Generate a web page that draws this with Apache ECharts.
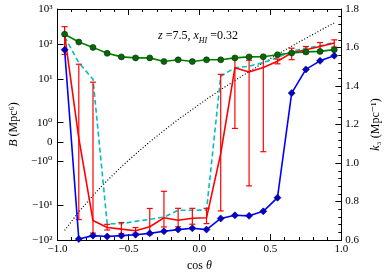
<!DOCTYPE html>
<html><head><meta charset="utf-8">
<script src="https://cdn.jsdelivr.net/npm/echarts@6/dist/echarts.min.js"></script>
<style>html,body{margin:0;padding:0;background:#fff}#c{width:390px;height:277px}</style>
</head><body><div id="c"></div>
<script>
// ---- data ----
const cosTheta = [-0.95,-0.85,-0.75,-0.65,-0.55,-0.45,-0.35,-0.25,-0.15,-0.05,0.05,0.15,0.25,0.35,0.45,0.55,0.65,0.75,0.85,0.95];
const bGreen = [190,113,79.5,53.7,42.5,39.8,39.8,31.3,35,31.3,35,35,39.8,42.5,43,49,55,59,61,68.4];
const bBlue  = [68,-93,-74.5,-79,-74.5,-70,-64,-56,-50,-46,-50,-24,-19.4,-20.2,-15,-6.1,3.9,18.6,32.7,46];
const bCyan  = [160,29,9.7,-34,-34,-29,-25.5,-22,-14,-14,-13.8,11.8,20.7,23,29,40.6,61,76,88.7,110];
const bRed   = [181,0.2,-27.5,-43.4,-48.4,-53.7,-41.4,-23,-26.9,-23.7,-23,-0.6,20.7,15.6,21,31.9,55.3,68.4,84.7,105.7];
const bRedErr= [131,26,35.5,8,17,10,29,19,14.6,11.4,10.7,14,20,18.4,21.5,5,20,16,25,25];
const k3     = [0.650,0.747,0.832,0.909,0.981,1.047,1.110,1.169,1.226,1.279,1.331,1.381,1.429,1.475,1.520,1.564,1.607,1.648,1.688,1.728];
const leftTickValues = [-100,-10,-1,0,1,10,100,1000];
const leftTickLabels = ['−10²','−10¹','−10⁰','0','10⁰','10¹','10²','10³'];

// symmetric-log scale (linthresh 2, linscale 1) used by the left axis
const LINTHRESH = 2, LINSCALE_ADJ = 1/(1-1/10);
function symlog(v){
  const a = Math.abs(v);
  const t = a <= LINTHRESH ? a/LINTHRESH*LINSCALE_ADJ : LINSCALE_ADJ + Math.log10(a/LINTHRESH);
  return v < 0 ? -t : t;
}
const leftTickPos = leftTickValues.map(symlog);
function leftLabel(val){
  let best = 0;
  for (let i=1;i<leftTickPos.length;i++) if (Math.abs(leftTickPos[i]-val) < Math.abs(leftTickPos[best]-val)) best = i;
  return leftTickLabels[best];
}
const pair = arr => cosTheta.map((c,i)=>[c, symlog(arr[i])]);

const FONT = "'Liberation Serif','DejaVu Serif',serif";
const axisLine = {show:true, onZero:false, lineStyle:{color:'#000', width:1}};
const xCommon = {type:'value', min:-1, max:1, interval:0.5, splitLine:{show:false},
  axisLine: axisLine,
  axisTick:{show:true, inside:true, length:6, lineStyle:{color:'#000'}},
  minorTick:{show:true, splitNumber:5, length:3, lineStyle:{color:'#000'}}};

const chart = echarts.init(document.getElementById('c'), null, {renderer:'canvas'});
chart.setOption({
  animation:false,
  backgroundColor:'#fff',
  grid:{left:49, right:41, top:9, bottom:34, containLabel:false},
  xAxis:[
    Object.assign({}, xCommon, {position:'bottom',
      name:'cos {i|θ}', nameLocation:'middle', nameGap:14,
      nameTextStyle:{fontFamily:FONT, fontSize:12, color:'#000', rich:{i:{fontStyle:'italic', fontFamily:FONT, fontSize:12}}},
      axisLabel:{show:true, margin:4, fontFamily:FONT, fontSize:11, color:'#000',
        formatter:v=>v.toFixed(1).replace('-','−')}}),
    Object.assign({}, xCommon, {position:'top', axisLabel:{show:false}})
  ],
  yAxis:[
    {type:'value', position:'left', min:symlog(-100), max:symlog(1000), splitLine:{show:false},
      axisLine: axisLine,
      axisTick:{show:true, inside:true, length:6, customValues:leftTickPos, lineStyle:{color:'#000'}},
      axisLabel:{show:true, margin:5, customValues:leftTickPos, fontFamily:FONT, fontSize:11, color:'#000', formatter:leftLabel},
      name:'{i|B} (Mpc⁶)', nameLocation:'middle', nameGap:34, nameRotate:90,
      nameTextStyle:{fontFamily:FONT, fontSize:12, color:'#000', rich:{i:{fontStyle:'italic', fontFamily:FONT, fontSize:12}}}},
    {type:'value', position:'right', min:0.6, max:1.8, interval:0.2, splitLine:{show:false},
      axisLine: axisLine,
      axisTick:{show:true, inside:true, length:6, lineStyle:{color:'#000'}},
      minorTick:{show:true, splitNumber:5, length:3, lineStyle:{color:'#000'}},
      axisLabel:{show:true, margin:4, fontFamily:FONT, fontSize:11, color:'#000', formatter:v=>v.toFixed(1)},
      name:'{i|k}₃ (Mpc⁻¹)', nameLocation:'middle', nameGap:26, nameRotate:90,
      nameTextStyle:{fontFamily:FONT, fontSize:12, color:'#000', rich:{i:{fontStyle:'italic', fontFamily:FONT, fontSize:12}}}}
  ],
  graphic:[{type:'text', x:198, y:36, z:100,
    style:{text:'{i|z} =7.5, {i|x}{sub|HI} =0.32', align:'center', verticalAlign:'middle',
      fontFamily:FONT, fontSize:12, fill:'#000',
      rich:{i:{fontStyle:'italic', fontFamily:FONT, fontSize:12},
            sub:{fontStyle:'italic', fontFamily:FONT, fontSize:8, padding:[9,0,0,0]}}}}],
  series:[
    {type:'line', name:'k3', xAxisIndex:0, yAxisIndex:1, data:cosTheta.map((c,i)=>[c,k3[i]]),
      showSymbol:false, symbol:'none', lineStyle:{color:'#000', width:1.2, type:[1,2]}, z:1},
    {type:'line', name:'cyan', xAxisIndex:0, yAxisIndex:0, data:pair(bCyan), symbol:'none',
      lineStyle:{color:'#00bfbf', width:1.6, type:[5,3]}, z:2},
    {type:'custom', name:'err', xAxisIndex:0, yAxisIndex:0, z:3,
      data:cosTheta.map((c,i)=>[c, symlog(bRed[i]-bRedErr[i]), symlog(bRed[i]+bRedErr[i])]),
      renderItem:(params, api)=>{
        const x = api.value(0);
        const lo = api.coord([x, api.value(1)]);
        const hi = api.coord([x, api.value(2)]);
        const c = 3, st = {stroke:'#ff0000', lineWidth:1.2};
        return {type:'group', children:[
          {type:'line', shape:{x1:lo[0],y1:lo[1],x2:hi[0],y2:hi[1]}, style:st},
          {type:'line', shape:{x1:lo[0]-c,y1:lo[1],x2:lo[0]+c,y2:lo[1]}, style:st},
          {type:'line', shape:{x1:hi[0]-c,y1:hi[1],x2:hi[0]+c,y2:hi[1]}, style:st}]};
      }},
    {type:'line', name:'red', xAxisIndex:0, yAxisIndex:0, data:pair(bRed), symbol:'none',
      lineStyle:{color:'#ff0000', width:1.6}, z:4},
    {type:'line', name:'green', xAxisIndex:0, yAxisIndex:0, data:pair(bGreen), symbol:'circle', symbolSize:6,
      lineStyle:{color:'#008000', width:1.6}, itemStyle:{color:'#0a650a', borderColor:'#003300', borderWidth:0.6}, z:5},
    {type:'line', name:'blue', xAxisIndex:0, yAxisIndex:0, data:pair(bBlue), symbol:'diamond', symbolSize:7,
      lineStyle:{color:'#0000ff', width:1.6}, itemStyle:{color:'#0000c8', borderColor:'#000060', borderWidth:0.6}, z:6}
  ]
});
</script></body></html>
